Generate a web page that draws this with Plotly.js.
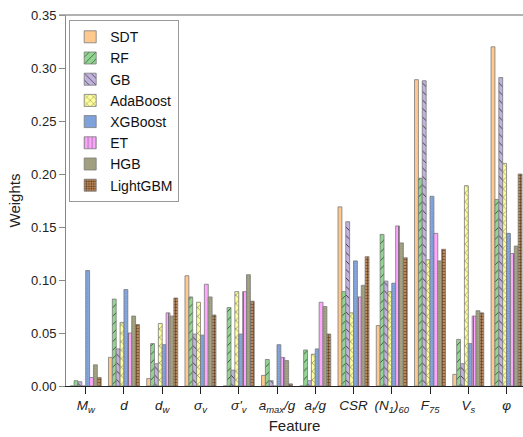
<!DOCTYPE html>
<html>
<head>
<meta charset="utf-8">
<script src="https://cdn.plot.ly/plotly-3.0.1.min.js"></script>
<style>html,body{margin:0;padding:0;background:#fff;}#chart{width:523px;height:437px;}</style>
</head>
<body>
<div id="chart"></div>
<script>
const features = [
  "<i>M</i><sub><i>w</i></sub>",
  "<i>d</i>",
  "<i>d</i><sub><i>w</i></sub>",
  "<i>σ</i><sub><i>v</i></sub>",
  "<i>σ'</i><sub><i>v</i></sub>",
  "<i>a</i><sub><i>max</i></sub><i>/g</i>",
  "<i>a</i><sub><i>t</i></sub><i>/g</i>",
  "<i>CSR</i>",
  "<i>(N</i><sub><i>1</i></sub><i>)</i><sub><i>60</i></sub>",
  "<i>F</i><sub><i>75</i></sub>",
  "<i>V</i><sub><i>s</i></sub>",
  "<i>φ</i>"
];
const models = ["SDT", "RF", "GB", "AdaBoost", "XGBoost", "ET", "HGB", "LightGBM"];

const SDT      = [0.000, 0.027, 0.007, 0.104, 0.000, 0.010, 0.000, 0.169, 0.057, 0.289, 0.011, 0.320];
const RF       = [0.005, 0.082, 0.040, 0.084, 0.074, 0.025, 0.034, 0.089, 0.143, 0.196, 0.044, 0.176];
const GB       = [0.004, 0.035, 0.021, 0.049, 0.015, 0.005, 0.005, 0.155, 0.099, 0.288, 0.021, 0.291];
const AdaBoost = [0.000, 0.060, 0.059, 0.079, 0.089, 0.000, 0.030, 0.069, 0.089, 0.119, 0.189, 0.210];
const XGBoost  = [0.109, 0.091, 0.039, 0.048, 0.049, 0.039, 0.035, 0.118, 0.097, 0.179, 0.040, 0.144];
const ET       = [0.008, 0.050, 0.069, 0.096, 0.089, 0.027, 0.079, 0.084, 0.151, 0.144, 0.066, 0.125];
const HGB      = [0.020, 0.066, 0.066, 0.084, 0.105, 0.024, 0.075, 0.095, 0.135, 0.118, 0.071, 0.132];
const LightGBM = [0.008, 0.058, 0.083, 0.067, 0.080, 0.002, 0.049, 0.122, 0.121, 0.129, 0.069, 0.200];

const series = [SDT, RF, GB, AdaBoost, XGBoost, ET, HGB, LightGBM];
const fills = ["#FFC98E", "#92D592", "#C2B2DE", "#FFFF99", "#86A8E0", "#FFA6FF", "#A6A686", "#B9875A"];
const patShapes = ["", "/", "\\", "x", ".", "|", ".", "+"];
const patFg = ["#333", "#2f4f2f", "#333", "#555", "#6c8cc4", "#555", "#8a8a6c", "#5a3a1a"];
const patSize = [6, 6, 6, 6, 2.5, 5, 2.5, 3];
const patSolid = [0.3, 0.15, 0.15, 0.15, 0.25, 0.15, 0.25, 0.35];

const traces = models.map((m, i) => ({
  type: "bar",
  name: m,
  x: features,
  y: series[i],
  marker: {
    color: fills[i],
    line: {color: "#7a7a7a", width: 0.8},
    pattern: {shape: patShapes[i], fgcolor: patFg[i], bgcolor: fills[i], fillmode: "replace",
              size: patSize[i], solidity: patSolid[i]}
  }
}));

const font = "Arial, 'Liberation Sans', sans-serif";
const layout = {
  width: 523, height: 437,
  margin: {l: 66, r: 0, t: 15, b: 51, pad: 0},
  paper_bgcolor: "#fff", plot_bgcolor: "#fff",
  barmode: "group", bargap: 0.19, bargroupgap: 0,
  font: {family: font, color: "#222", size: 13},
  showlegend: true,
  legend: {
    x: 0.007, y: 0.986, xanchor: "left", yanchor: "top",
    bgcolor: "#fff", bordercolor: "#999", borderwidth: 1,
    font: {family: font, size: 14, color: "#111"},
    tracegroupgap: 0, itemwidth: 30
  },
  xaxis: {
    type: "category",
    range: [-0.515, 11.43],
    showgrid: false, zeroline: false,
    showline: true, linecolor: "#222", linewidth: 1,
    ticks: "outside", ticklen: 7, tickcolor: "#222",
    tickfont: {family: font, size: 13.5, color: "#222"},
    title: {text: "Feature", font: {family: font, size: 15, color: "#222"}, standoff: 6}
  },
  yaxis: {
    range: [0, 0.35],
    dtick: 0.05, tickformat: ".2f",
    showgrid: false, zeroline: false,
    showline: true, linecolor: "#888", linewidth: 1,
    ticks: "outside", ticklen: 6, tickcolor: "#888",
    tickfont: {family: font, size: 13, color: "#222"},
    title: {text: "Weights", font: {family: font, size: 15, color: "#222"}, standoff: 6}
  },
  shapes: [{type: "line", xref: "paper", yref: "paper", x0: -0.015, x1: 1, y0: 1, y1: 1,
            line: {color: "#999", width: 1.5}}]
};

Plotly.newPlot("chart", traces, layout, {displayModeBar: false, staticPlot: true});
</script>
</body>
</html>
